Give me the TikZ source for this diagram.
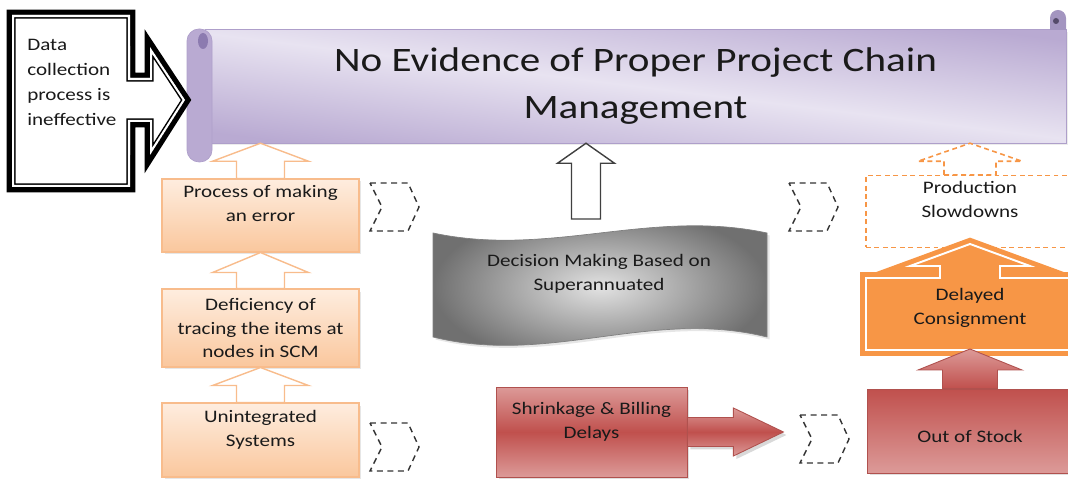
\documentclass[tikz,border=0pt]{standalone}
\usepackage{fontspec}
\setmainfont{Carlito}[FakeStretch=1.2]
\usetikzlibrary{calc,
shadows,
positioning}

\definecolor{inkc}{HTML}{1A1A1A}
\definecolor{scrolllight}{HTML}{E8E3F1}
\definecolor{scrolldark}{HTML}{B9AAD2}
\definecolor{scrollline}{HTML}{AE9FCA}
\definecolor{curldark}{HTML}{8C7BB0}
\definecolor{peachtop}{HTML}{FEEDDF}
\definecolor{peachbot}{HTML}{FAC79D}
\definecolor{peachline}{HTML}{F8BC8C}
\definecolor{orng}{HTML}{F79646}
\definecolor{redlight}{HTML}{DC9A98}
\definecolor{redmain}{HTML}{C0504D}
\definecolor{redline}{HTML}{B0514E}
\definecolor{wavein}{HTML}{E2E2E2}
\definecolor{waveout}{HTML}{707070}

% up-pointing block arrow: options, base, tip, shaft half width, head half width, head length
\newcommand{\blockup}[6]{%
  \draw[#1] ($(#2)+(-#4,0)$) -- ($(#3)+(-#4,-#6)$) -- ($(#3)+(-#5,-#6)$) -- (#3)
  -- ($(#3)+(#5,-#6)$) -- ($(#3)+(#4,-#6)$) -- ($(#2)+(#4,0)$) -- cycle;}

% outline of the left callout
\newcommand{\datapath}{(12,464) -- (130,464) -- (130,401) -- (150,401) -- (150,432)
  -- (185,379) -- (150,324) -- (150,357) -- (130,357) -- (130,292) -- (12,292) -- cycle}

\begin{document}
\begin{tikzpicture} [x=0.02cm,
    y=0.02cm,
    line join=miter,
    every node/.style={text=inkc, font=\fontsize{10}{13.6}\selectfont},
    scroll node/.style={rectangle, draw=scrollline, line width=0.3pt,
        top color=scrolldark, bottom color=scrolldark, middle color=scrolllight,
        shading angle=-7, align=center, inner sep=0pt,
        font=\fontsize{19.5}{27}\selectfont},
    cause node/.style={rectangle, draw=peachline, line width=0.6pt,
        top color=peachtop, bottom color=peachbot, align=center,
        minimum width=3.94cm,
        drop shadow={opacity=0.2, shadow xshift=0.05cm, shadow yshift=-0.05cm}},
    red node/.style={rectangle, draw=redline, line width=0.5pt, align=center,
        drop shadow={opacity=0.25, shadow xshift=0.05cm, shadow yshift=-0.05cm}},
    peach arrow/.style={draw=peachline, fill=white, line width=0.8pt},
    dash line/.style={draw=orng, line width=0.9pt, dash pattern=on 2.8pt off 2pt},
    chev/.style={draw=black!80, line width=0.8pt, dash pattern=on 3.4pt off 2.6pt}
  ]

  \useasboundingbox (0,0) rectangle (1068,479);
  \clip (0,0) rectangle (1068,479);

  %%%%%%%%%%%%%%%%%%%%%%%%%%%%%% scroll banner

  \node [scroll node,
    minimum width = 17.22cm,
    minimum height = 2.28cm,
    drop shadow={opacity=0.15, shadow xshift=0.04cm, shadow yshift=-0.05cm}
  ] (title) at (635.5,393) {No Evidence of Proper Project Chain\\Management};

  \fill [scrolldark, draw=scrollline, rounded corners=0.24cm] (187,317) rectangle (212,450);
  \fill [curldark] (203,438) ellipse [x radius=5, y radius=8];
  \fill [curldark!80] (1050,449) -- (1050,461) arc [start angle=180, end angle=0, radius=8]
  -- (1066,449) -- cycle;
  \fill [curldark!60!black] (1056,458) circle (3);

  %%%%%%%%%%%%%%%%%%%%%%%%%%%%%% left callout

  \draw [line width=6pt] \datapath;
  \begin{scope}
    \clip \datapath;
    \draw [fill=white, line width=4pt] \datapath;
    \draw [white, line width=2.3pt] \datapath;
  \end{scope}
  \node [anchor=west,
    align=left,
    inner sep=0pt,
    font=\fontsize{10}{14.2}\selectfont
  ] (datatxt) at (27,396.5) {Data\\collection\\process is\\ineffective};

  %%%%%%%%%%%%%%%%%%%%%%%%%%%%%% left column

  \node [cause node,
    minimum height = 1.46cm
  ] (err) at (260.5,263.5) {Process of making\\an error\\\mbox{}};

  \node [cause node,
    minimum height = 1.56cm
  ] (trace) at (260.5,151) {Deficiency of\\tracing the items at\\nodes in SCM};

  \node [cause node,
    minimum height = 1.48cm
  ] (unint) at (260.5,39) {Unintegrated\\Systems\\\mbox{}};

  \blockup{peach arrow}{err.north}{err.north |- title.south}{24}{48}{18}
  \blockup{peach arrow}{trace.north}{err.south}{24}{48}{20}
  \blockup{peach arrow}{unint.north}{trace.south}{24}{48}{18}

  %%%%%%%%%%%%%%%%%%%%%%%%%%%%%% middle

  \draw [draw=black!50, inner color=wavein, outer color=waveout,
    drop shadow={opacity=0.2, shadow xshift=0.05cm, shadow yshift=-0.05cm}]
  (433,246) .. controls (550,221) and (650,271) .. (767,246) -- (767,142)
  .. controls (650,171) and (550,113) .. (433,142) -- cycle;
  \node [align=center] (decision) at (599,205) {Decision Making Based on\\Superannuated};

  \coordinate (wavetop) at (586,260);
  \blockup{draw=black!75, fill=white, line width=0.8pt}{wavetop}{wavetop |- title.south}{14.5}{28.5}{20}

  \node [red node,
    top color=redlight, bottom color=redlight, middle color=redmain,
    minimum width = 3.82cm,
    minimum height = 1.8cm
  ] (shrink) at (591.5,47) {Shrinkage \& Billing\\Delays\\\mbox{}};

  \draw [draw=redline, line width=0.5pt,
    top color=redlight, bottom color=redlight, middle color=redmain,
    drop shadow={opacity=0.3, shadow xshift=0.06cm, shadow yshift=-0.06cm}]
  ($(shrink.east)+(0,14.5)$) -- ++(46,0) -- ++(0,9.5) -- ($(shrink.east)+(96,0)$)
  -- ($(shrink.east)+(46,-24)$) -- ++(0,9.5) -- ($(shrink.east)+(0,-14.5)$) -- cycle;

  %%%%%%%%%%%%%%%%%%%%%%%%%%%%%% chevrons

  \foreach \cx/\cy in {370/296, 370/56, 789/296, 800/64}
  \draw [chev] (\cx,\cy) -- ++(38,0) -- ++(11,-24) -- ++(-11,-24) -- ++(-38,0)
  -- ++(12,24) -- cycle;

  %%%%%%%%%%%%%%%%%%%%%%%%%%%%%% right column

  \node [dash line,
    align=center,
    minimum width = 4.16cm,
    minimum height = 1.38cm
  ] (slow) at (970,267.5) {Production\\Slowdowns\\\mbox{}};
  \blockup{dash line, fill=white}{slow.north}{slow.north |- title.south}{26}{52}{18}

  \draw [orng, fill=orng, line width=6.8pt]
  (866,129) -- (866,201) -- (940,201) -- (940,213) -- (910,213) -- (970,235)
  -- (1030,213) -- (1000,213) -- (1000,201) -- (1074,201) -- (1074,129) -- cycle;
  \draw [white, line width=1.1pt]
  (866,129) -- (866,201) -- (940,201) -- (940,213) -- (910,213) -- (970,235)
  -- (1030,213) -- (1000,213) -- (1000,201) -- (1074,201) -- (1074,129) -- cycle;
  \node [align=center, inner sep=0pt] (delay) at (970,171) {Delayed\\Consignment};
  \coordinate (delaybase) at (970,130);

  \node [red node,
    top color=redmain, bottom color=redlight,
    minimum width = 4.12cm,
    minimum height = 1.68cm
  ] (stock) at (970,48) {\mbox{}\\Out of Stock};

  \blockup{draw=redline, line width=0.5pt, top color=redlight, bottom color=redmain}{stock.north}{delaybase}{27.5}{52}{21}

\end{tikzpicture}
\end{document}
